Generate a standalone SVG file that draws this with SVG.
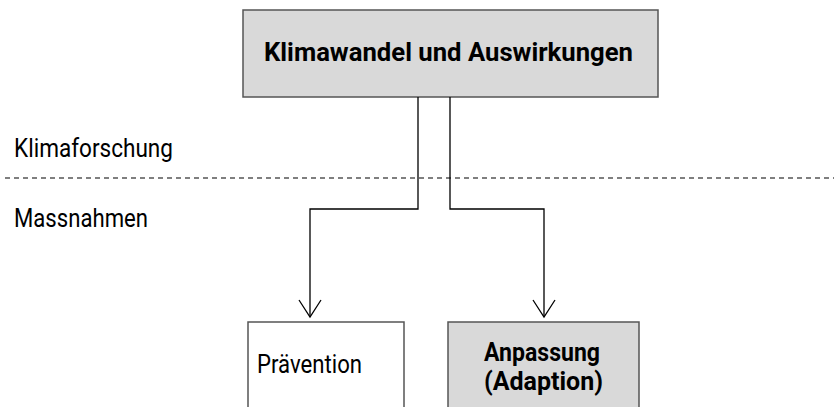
<svg xmlns="http://www.w3.org/2000/svg" width="834" height="407" viewBox="0 0 834 407">
<style>
text{font-family:Roboto,"Open Sans","DejaVu Sans",sans-serif;fill:#000;font-size:25px}
.b{font-weight:bold}
.box{stroke:#555;stroke-width:1.5}
.g{fill:#d9d9d9}
.w{fill:#fff}
.c{fill:none;stroke:#000;stroke-width:1.3}
</style>
<defs>
<marker id="a" markerWidth="20" markerHeight="26" refX="18" refY="12" orient="auto" markerUnits="userSpaceOnUse" viewBox="0 0 20 26">
<path d="M1,1 L18,12 L1,23" fill="none" stroke="#000" stroke-width="1.3"/>
</marker>
</defs>
<rect width="834" height="407" fill="#fff"/>
<text x="14" y="157" textLength="159" lengthAdjust="spacingAndGlyphs">Klimaforschung</text>
<text x="14" y="227" textLength="134" lengthAdjust="spacingAndGlyphs">Massnahmen</text>
<line x1="5" y1="178" x2="834" y2="178" stroke="#000" stroke-width="1.2" stroke-dasharray="5,4"/>
<g id="klimawandel">
<rect class="box g" x="243" y="10" width="415" height="87"/>
<text class="b" x="264" y="61" textLength="369" lengthAdjust="spacingAndGlyphs">Klimawandel und Auswirkungen</text>
</g>
<g id="connectors">
<path class="c" d="M418,97 V209 H310 V317" marker-end="url(#a)"/>
<path class="c" d="M450,97 V209 H544 V317" marker-end="url(#a)"/>
</g>
<g id="praevention">
<rect class="box w" x="248" y="322" width="156" height="100"/>
<text x="257" y="373" textLength="105" lengthAdjust="spacingAndGlyphs">Prävention</text>
</g>
<g id="anpassung">
<rect class="box g" x="448" y="322" width="191" height="100"/>
<text class="b" x="484" y="361" textLength="116" lengthAdjust="spacingAndGlyphs">Anpassung</text>
<text class="b" x="484" y="390" textLength="119" lengthAdjust="spacingAndGlyphs">(Adaption)</text>
</g>
</svg>
